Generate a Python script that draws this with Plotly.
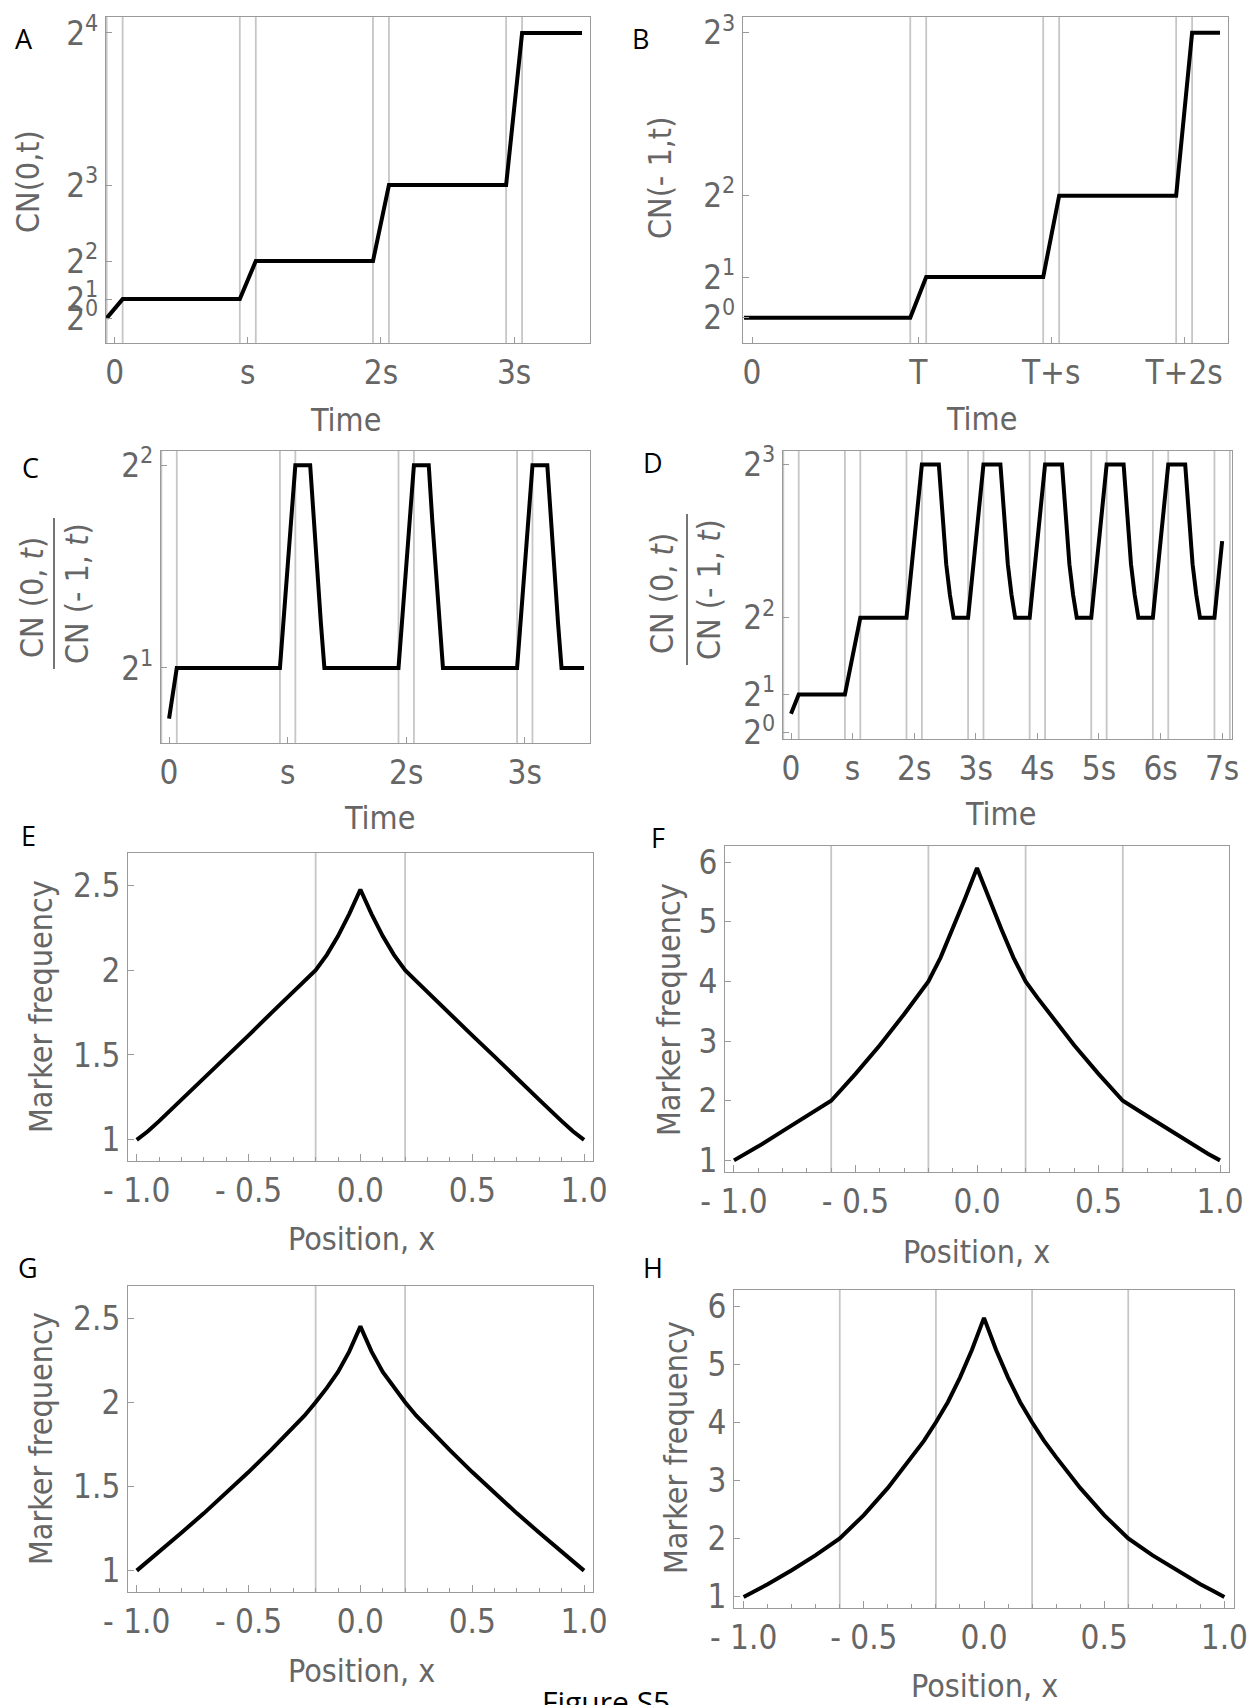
import plotly.graph_objects as go

W, H = 1247, 1705

# ---------------- data ----------------
# Panel A: CN(0,t)
a_t = [-0.06, 0.06, 0.94, 1.06, 1.94, 2.06, 2.94, 3.06, 3.51]
a_cn = [1, 2, 2, 4, 4, 8, 8, 16, 16]
a_vlines = [-0.06, 0.06, 0.94, 1.06, 1.94, 2.06, 2.94, 3.06]
a_xticks = [0, 1, 2, 3]
a_xlabels = ["0", "s", "2s", "3s"]
a_yticks = [1, 2, 4, 8, 16]
a_ylabels = ["2<sup>0</sup>", "2<sup>1</sup>", "2<sup>2</sup>", "2<sup>3</sup>", "2<sup>4</sup>"]

# Panel B: CN(-1,t)
b_t = [-0.06, 1.19, 1.31, 2.19, 2.31, 3.19, 3.31, 3.52]
b_cn = [1, 1, 2, 2, 4, 4, 8, 8]
b_vlines = [1.19, 1.31, 2.19, 2.31, 3.19, 3.31]
b_xticks = [0, 1.25, 2.25, 3.25]
b_xlabels = ["0", "T", "T+s", "T+2s"]
b_yticks = [1, 2, 4, 8]
b_ylabels = ["2<sup>0</sup>", "2<sup>1</sup>", "2<sup>2</sup>", "2<sup>3</sup>"]

# Panel C: CN(0,t)/CN(-1,t)
c_t = [0, 0.065, 0.935, 1.065, 1.19, 1.22, 1.25, 1.28, 1.31,
       1.935, 2.065, 2.19, 2.22, 2.25, 2.28, 2.31,
       2.935, 3.065, 3.19, 3.22, 3.25, 3.28, 3.31, 3.50]
c_ratio = [1.5, 2, 2, 4, 4, 3.45, 2.95, 2.45, 2,
           2, 4, 4, 3.45, 2.95, 2.45, 2,
           2, 4, 4, 3.45, 2.95, 2.45, 2, 2]
c_vlines = [-0.065, 0.065, 0.935, 1.065, 1.935, 2.065, 2.935, 3.065]
c_xticks = [0, 1, 2, 3]
c_xlabels = ["0", "s", "2s", "3s"]
c_yticks = [2, 4]
c_ylabels = ["2<sup>1</sup>", "2<sup>2</sup>"]

# Panel D: CN(0,t)/CN(-1,t), longer run
d_t = [0, 0.125, 0.875, 1.125, 1.875, 2.125,
       2.40, 2.46, 2.52, 2.58, 2.64, 2.875, 3.125,
       3.40, 3.46, 3.52, 3.58, 3.64, 3.875, 4.125,
       4.40, 4.46, 4.52, 4.58, 4.64, 4.875, 5.125,
       5.40, 5.46, 5.52, 5.58, 5.64, 5.875, 6.125,
       6.40, 6.46, 6.52, 6.58, 6.64, 6.875, 7.0]
d_ratio = [1.5, 2, 2, 4, 4, 8,
           8, 6.5, 5.4, 4.6, 4, 4, 8,
           8, 6.5, 5.4, 4.6, 4, 4, 8,
           8, 6.5, 5.4, 4.6, 4, 4, 8,
           8, 6.5, 5.4, 4.6, 4, 4, 8,
           8, 6.5, 5.4, 4.6, 4, 4, 6.0]
d_vlines = [-0.125, 0.125, 0.875, 1.125, 1.875, 2.125, 2.875, 3.125, 3.875,
            4.125, 4.875, 5.125, 5.875, 6.125, 6.875, 7.125]
d_xticks = [0, 1, 2, 3, 4, 5, 6, 7]
d_xlabels = ["0", "s", "2s", "3s", "4s", "5s", "6s", "7s"]
d_yticks = [1, 2, 4, 8]
d_ylabels = ["2<sup>0</sup>", "2<sup>1</sup>", "2<sup>2</sup>", "2<sup>3</sup>"]

# Panels E-H: marker frequency vs position
pos_x = [-1.0, -0.95, -0.9, -0.8, -0.7, -0.6, -0.5, -0.4, -0.3, -0.25, -0.2, -0.15, -0.1, -0.05, 0.0,
         0.05, 0.1, 0.15, 0.2, 0.25, 0.3, 0.4, 0.5, 0.6, 0.7, 0.8, 0.9, 0.95, 1.0]
e_freq = [1.0, 1.05, 1.11, 1.235, 1.36, 1.49, 1.615, 1.745, 1.87, 1.935, 2.0, 2.09, 2.2, 2.33, 2.475,
          2.33, 2.2, 2.09, 2.0, 1.935, 1.87, 1.745, 1.615, 1.49, 1.36, 1.235, 1.11, 1.05, 1.0]
f_freq = [1.0, 1.11, 1.235, 1.49, 1.745, 2.0, 2.45, 2.93, 3.45, 3.72, 4.0, 4.4, 4.88, 5.38, 5.9,
          5.38, 4.88, 4.4, 4.0, 3.72, 3.45, 2.93, 2.45, 2.0, 1.745, 1.49, 1.235, 1.11, 1.0]
g_freq = [1.0, 1.055, 1.11, 1.225, 1.34, 1.46, 1.585, 1.715, 1.85, 1.92, 2.0, 2.085, 2.18, 2.3, 2.45,
          2.3, 2.18, 2.085, 2.0, 1.92, 1.85, 1.715, 1.585, 1.46, 1.34, 1.225, 1.11, 1.055, 1.0]
h_freq = [0.99, 1.1, 1.21, 1.45, 1.71, 2.0, 2.4, 2.87, 3.4, 3.68, 4.0, 4.35, 4.77, 5.25, 5.8,
          5.25, 4.77, 4.35, 4.0, 3.68, 3.4, 2.87, 2.4, 2.0, 1.71, 1.45, 1.21, 1.1, 0.99]
eg_vlines = [-0.2, 0.2]
fh_vlines = [-0.6, -0.2, 0.2, 0.6]
pos_xticks = [-1.0, -0.5, 0.0, 0.5, 1.0]
pos_xlabels = ["- 1.0", "- 0.5", "0.0", "0.5", "1.0"]
eg_yticks = [1, 1.5, 2, 2.5]
eg_ylabels = ["1", "1.5", "2", "2.5"]
fh_yticks = [1, 2, 3, 4, 5, 6]
fh_ylabels = ["1", "2", "3", "4", "5", "6"]

# ---------------- layout helpers ----------------
NARROW = "DejaVu Sans Condensed, Liberation Sans Narrow, Liberation Sans, Arial, sans-serif"
TICKFONT = dict(family=NARROW, size=33, color="#666666")
TITLEFONT = dict(family=NARROW, size=32, color="#666666")
LETTERFONT = dict(family="Open Sans, Noto Sans, sans-serif", size=27, color="black")
FRAME = "#9a9a9a"
VLINE = "#c6c6c6"


def px_x(p):
    return p / W


def px_y(p):
    return 1 - p / H


fig = go.Figure()

panels = [
    # name, box(l, t, r, b), xrange, yrange, x data, y data, vlines, xticks, xlabels, yticks, ylabels, minor
    ("A", (106, 17, 590, 343), [-0.065, 3.57], [-0.31, 16.84], a_t, a_cn, a_vlines,
     a_xticks, a_xlabels, a_yticks, a_ylabels, False),
    ("B", (743, 17, 1228, 343), [-0.068, 3.58], [0.38, 8.39], b_t, b_cn, b_vlines,
     b_xticks, b_xlabels, b_yticks, b_ylabels, False),
    ("C", (161, 451, 590, 743), [-0.068, 3.55], [1.26, 4.14], c_t, c_ratio, c_vlines,
     c_xticks, c_xlabels, c_yticks, c_ylabels, False),
    ("D", (783, 451, 1232, 739), [-0.13, 7.16], [0.84, 8.35], d_t, d_ratio, d_vlines,
     d_xticks, d_xlabels, d_yticks, d_ylabels, False),
    ("E", (128, 853, 593, 1161), [-1.039, 1.04], [0.875, 2.69], pos_x, e_freq, eg_vlines,
     pos_xticks, pos_xlabels, eg_yticks, eg_ylabels, True),
    ("F", (725, 846, 1229, 1172), [-1.037, 1.037], [0.805, 6.27], pos_x, f_freq, fh_vlines,
     pos_xticks, pos_xlabels, fh_yticks, fh_ylabels, True),
    ("G", (128, 1286, 593, 1592), [-1.039, 1.04], [0.873, 2.69], pos_x, g_freq, eg_vlines,
     pos_xticks, pos_xlabels, eg_yticks, eg_ylabels, True),
    ("H", (734, 1290, 1234, 1608), [-1.04, 1.04], [0.8, 6.28], pos_x, h_freq, fh_vlines,
     pos_xticks, pos_xlabels, fh_yticks, fh_ylabels, True),
]

shapes = []
layout_axes = {}
for i, (name, box, xr, yr, xs, ys, vls, xt, xl, yt, yl, minor) in enumerate(panels):
    n = "" if i == 0 else str(i + 1)
    l, t, r, b = box
    xa = dict(domain=[px_x(l), px_x(r)], range=xr, anchor="y" + n, automargin=False,
              showline=True, mirror=True, linecolor=FRAME, linewidth=1.2,
              showgrid=False, zeroline=False, ticklabeloverflow="allow",
              ticks="inside", ticklen=6, tickcolor=FRAME, tickwidth=1,
              tickvals=xt, ticktext=xl, tickfont=TICKFONT, ticklabelstandoff=0)
    if minor:
        xa["ticklen"] = 7
        xa["minor"] = dict(dtick=0.1, ticks="inside", ticklen=4, tickcolor=FRAME, showgrid=False)
    ya = dict(domain=[px_y(b), px_y(t)], range=yr, anchor="x" + n, automargin=False,
              showline=True, mirror=True, linecolor=FRAME, linewidth=1.2,
              showgrid=False, zeroline=False, ticklabeloverflow="allow",
              ticks="inside", ticklen=6, tickcolor=FRAME, tickwidth=1,
              tickvals=yt, ticktext=yl, tickfont=TICKFONT, ticklabelstandoff=0)
    layout_axes["xaxis" + n] = xa
    layout_axes["yaxis" + n] = ya
    for v in vls:
        shapes.append(dict(type="line", xref="x" + n, yref="y" + n + " domain",
                           x0=v, x1=v, y0=0, y1=1, layer="below",
                           line=dict(color=VLINE, width=1.8)))
    fig.add_trace(go.Scatter(x=xs, y=ys, xaxis="x" + n, yaxis="y" + n, mode="lines",
                             line=dict(color="black", width=4), showlegend=False,
                             hoverinfo="skip"))

# fraction bars for C and D y titles
shapes.append(dict(type="line", xref="paper", yref="paper",
                   x0=px_x(54), x1=px_x(54), y0=px_y(518), y1=px_y(669),
                   line=dict(color="#666666", width=1.8)))
shapes.append(dict(type="line", xref="paper", yref="paper",
                   x0=px_x(687), x1=px_x(687), y0=px_y(514), y1=px_y(665),
                   line=dict(color="#666666", width=1.8)))

annotations = []


def ann(text, x, y, font, angle=0, xanchor="center", yanchor="middle"):
    annotations.append(dict(text=text, x=px_x(x), y=px_y(y), xref="paper", yref="paper",
                            showarrow=False, font=font, textangle=angle,
                            xanchor=xanchor, yanchor=yanchor))


# panel letters
for letter, x, y in [("A", 24, 38), ("B", 640, 38), ("C", 30, 467), ("D", 653, 462),
                     ("E", 28, 835), ("F", 658, 838), ("G", 28, 1267), ("H", 653, 1267)]:
    ann(letter, x, y, LETTERFONT)

# axis titles
ann("CN(0,t)", 28, 182, TITLEFONT, angle=-90)
ann("CN(- 1,t)", 660, 178, TITLEFONT, angle=-90)
ann("Time", 345, 420, TITLEFONT)
ann("Time", 981, 419, TITLEFONT)
ann("Time", 379, 818, TITLEFONT)
ann("Time", 1000, 814, TITLEFONT)
ann("CN (0, <i>t</i>)", 32, 598, TITLEFONT, angle=-90)
ann("CN (- 1, <i>t</i>)", 77, 594, TITLEFONT, angle=-90)
ann("CN (0, <i>t</i>)", 662, 594, TITLEFONT, angle=-90)
ann("CN (- 1, <i>t</i>)", 709, 590, TITLEFONT, angle=-90)
ann("Marker frequency", 41, 1007, TITLEFONT, angle=-90)
ann("Marker frequency", 669, 1010, TITLEFONT, angle=-90)
ann("Marker frequency", 41, 1439, TITLEFONT, angle=-90)
ann("Marker frequency", 676, 1448, TITLEFONT, angle=-90)
ann("Position, x", 361, 1671, TITLEFONT)
ann("Position, x", 361, 1239, TITLEFONT)
ann("Position, x", 976, 1252, TITLEFONT)
ann("Position, x", 984, 1686, TITLEFONT)

# figure caption (cut off at page bottom)
ann("Figure S5", 606, 1679, dict(family="Open Sans, Noto Sans, sans-serif", size=30, color="black"),
    yanchor="top")

fig.update_layout(template="none", width=W, height=H, autosize=False,
                  margin=dict(l=0, r=0, t=0, b=0),
                  paper_bgcolor="white", plot_bgcolor="white",
                  shapes=shapes, annotations=annotations, **layout_axes)

fig.write_html("out.html", config={"displayModeBar": False},
               post_script="document.body.style.margin='0';")
